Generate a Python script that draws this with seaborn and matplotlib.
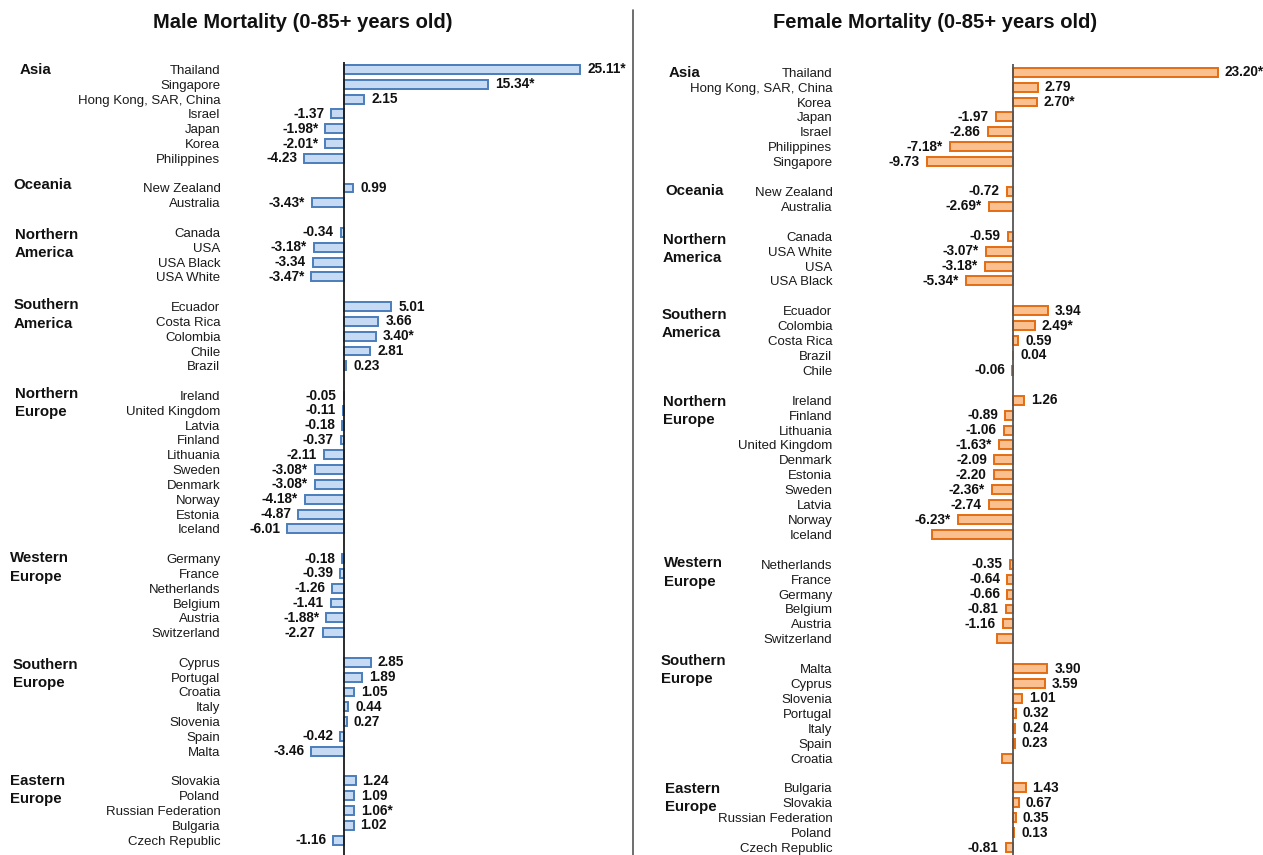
import matplotlib
matplotlib.use("Agg")
import matplotlib.pyplot as plt
import matplotlib.transforms as mtransforms
import seaborn as sns
import pandas as pd

sns.set_theme(style="white")
plt.rcParams["font.family"] = ["Liberation Sans", "DejaVu Sans"]

# ---- Male mortality: % change per country, grouped by region ----
male_regions = ["Asia", "Oceania", "Northern\nAmerica", "Southern\nAmerica",
                "Northern\nEurope", "Western\nEurope", "Southern\nEurope", "Eastern\nEurope"]
male_countries = [
    ["Thailand", "Singapore", "Hong Kong, SAR, China", "Israel", "Japan", "Korea", "Philippines"],
    ["New Zealand", "Australia"],
    ["Canada", "USA", "USA Black", "USA White"],
    ["Ecuador", "Costa Rica", "Colombia", "Chile", "Brazil"],
    ["Ireland", "United Kingdom", "Latvia", "Finland", "Lithuania", "Sweden", "Denmark",
     "Norway", "Estonia", "Iceland"],
    ["Germany", "France", "Netherlands", "Belgium", "Austria", "Switzerland"],
    ["Cyprus", "Portugal", "Croatia", "Italy", "Slovenia", "Spain", "Malta"],
    ["Slovakia", "Poland", "Russian Federation", "Bulgaria", "Czech Republic"],
]
male_values = [
    [25.11, 15.34, 2.15, -1.37, -1.98, -2.01, -4.23],
    [0.99, -3.43],
    [-0.34, -3.18, -3.34, -3.47],
    [5.01, 3.66, 3.40, 2.81, 0.23],
    [-0.05, -0.11, -0.18, -0.37, -2.11, -3.08, -3.08, -4.18, -4.87, -6.01],
    [-0.18, -0.39, -1.26, -1.41, -1.88, -2.27],
    [2.85, 1.89, 1.05, 0.44, 0.27, -0.42, -3.46],
    [1.24, 1.09, 1.06, 1.02, -1.16],
]
# 1 = significant (starred), 0 = not significant, None = value not printed
male_sig = [
    [1, 1, 0, 0, 1, 1, 0],
    [0, 1],
    [0, 1, 0, 1],
    [0, 0, 1, 0, 0],
    [0, 0, 0, 0, 0, 1, 1, 1, 0, 0],
    [0, 0, 0, 0, 1, 0],
    [0, 0, 0, 0, 0, 0, 0],
    [0, 0, 1, 0, 0],
]

# ---- Female mortality ----
female_regions = male_regions
female_countries = [
    ["Thailand", "Hong Kong, SAR, China", "Korea", "Japan", "Israel", "Philippines", "Singapore"],
    ["New Zealand", "Australia"],
    ["Canada", "USA White", "USA", "USA Black"],
    ["Ecuador", "Colombia", "Costa Rica", "Brazil", "Chile"],
    ["Ireland", "Finland", "Lithuania", "United Kingdom", "Denmark", "Estonia", "Sweden",
     "Latvia", "Norway", "Iceland"],
    ["Netherlands", "France", "Germany", "Belgium", "Austria", "Switzerland"],
    ["Malta", "Cyprus", "Slovenia", "Portugal", "Italy", "Spain", "Croatia"],
    ["Bulgaria", "Slovakia", "Russian Federation", "Poland", "Czech Republic"],
]
female_values = [
    [23.20, 2.79, 2.70, -1.97, -2.86, -7.18, -9.73],
    [-0.72, -2.69],
    [-0.59, -3.07, -3.18, -5.34],
    [3.94, 2.49, 0.59, 0.04, -0.06],
    [1.26, -0.89, -1.06, -1.63, -2.09, -2.20, -2.36, -2.74, -6.23, -9.16],
    [-0.35, -0.64, -0.66, -0.81, -1.16, -1.75],
    [3.90, 3.59, 1.01, 0.32, 0.24, 0.23, -1.22],
    [1.43, 0.67, 0.35, 0.13, -0.81],
]
female_sig = [
    [1, 0, 1, 0, 0, 1, 0],
    [0, 1],
    [0, 1, 1, 1],
    [0, 1, 0, 0, 0],
    [0, 0, 0, 1, 0, 0, 1, 0, 1, None],
    [0, 0, 0, 0, 0, None],
    [0, 0, 0, 0, 0, 0, None],
    [0, 0, 0, 0, 0],
]

W, H = 1263, 855
fig = plt.figure(figsize=(W / 100, H / 100), dpi=100)


def build_frame(countries, values, sig):
    """Flatten grouped data; one blank row separates consecutive regions."""
    rows, order, starts = [], [], []
    gap = 0
    for gi, (cs, vs, ss) in enumerate(zip(countries, values, sig)):
        if gi > 0:
            gap += 1
            order.append(" " * gap)
        starts.append(len(order))
        for c, v, s in zip(cs, vs, ss):
            if s is None:
                lab = ""
            else:
                lab = f"{v:.2f}" + ("*" if s else "")
            rows.append({"country": c, "value": v, "label": lab})
            order.append(c)
    return pd.DataFrame(rows), order, starts


def panel(rect_px, xlim, ylim, countries, values, sig, regions, region_x, region_dy,
          fill, edge, zero_color, title, title_x):
    left, right, top, bottom = rect_px
    ax = fig.add_axes([left / W, 1 - bottom / H, (right - left) / W, (bottom - top) / H])
    df, order, starts = build_frame(countries, values, sig)
    sns.barplot(data=df, x="value", y="country", order=order, orient="h",
                color=fill, edgecolor=edge, linewidth=1.4, width=0.6,
                saturation=1, ax=ax)
    ax.set_xlim(*xlim)
    ax.set_ylim(*ylim)
    ax.axvline(0, color=zero_color, linewidth=1.3, zorder=5)
    for s in ax.spines.values():
        s.set_visible(False)
    ax.set_xticks([])
    ax.set_xlabel("")
    ax.set_ylabel("")
    ax.tick_params(axis="y", length=0, pad=4, labelsize=9.5, labelcolor="#1a1a1a")

    # value labels at bar ends
    pos = {c: i for i, c in enumerate(order)}
    for _, r in df.iterrows():
        if not r["label"]:
            continue
        v = r["value"]
        ax.annotate(r["label"], xy=(v, pos[r["country"]]),
                    xytext=(5 if v >= 0 else -5, 0), textcoords="offset points",
                    ha="left" if v >= 0 else "right", va="center",
                    fontsize=9.8, fontweight="bold", color="#111111")

    # region names in the left margin
    trans = mtransforms.blended_transform_factory(fig.transFigure, ax.transData)
    for name, st, rx, dy in zip(regions, starts, region_x, region_dy):
        ax.text(rx / W, st - 0.55 + dy, name, transform=trans, ha="left", va="top",
                fontsize=10.8, fontweight="bold", color="#111111", linespacing=1.38)

    fig.text(title_x / W, 1 - 22 / H, title, ha="center", va="center",
             fontsize=14.5, fontweight="bold", color="#111111")
    return ax


panel((226, 628, 62, 855), (-12.55, 30.2), (53.0, -0.5),
      male_countries, male_values, male_sig, male_regions,
      [20, 13, 15, 14, 15, 10, 13, 10],
      [0.13, -0.15, 0.27, 0.0, -0.02, 0.07, 0.27, 0.1],
      "#c6daf3", "#4a7ebb", "#1a1a1a",
      "Male Mortality (0-85+ years old)", 303)

panel((838, 1263, 64, 855), (-19.8, 28.3), (52.5, -0.55),
      female_countries, female_values, female_sig, female_regions,
      [669, 665, 663, 662, 663, 664, 661, 665],
      [0.13, 0.05, 0.33, 0.37, 0.17, 0.03, -0.45, 0.15],
      "#fbc08f", "#e46c12", "#555555",
      "Female Mortality (0-85+ years old)", 935)

# divider between the two panels
fig.add_artist(plt.Line2D([633 / W, 633 / W], [0, 1 - 10 / H],
                          transform=fig.transFigure, color="#555555", linewidth=1.2))

fig.savefig("out.png", dpi=100, facecolor="white")
